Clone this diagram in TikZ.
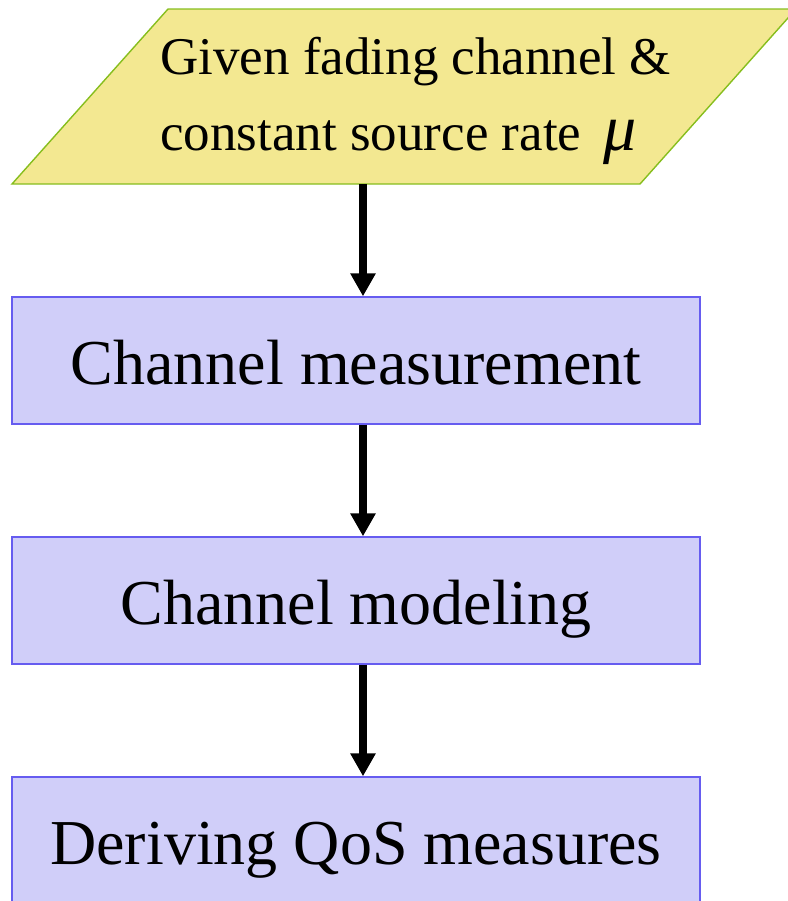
\documentclass[tikz,border=0pt]{standalone}
\usepackage{fontspec}
\setmainfont{Liberation Serif}
\usetikzlibrary{arrows.meta}
\definecolor{inputfill}{RGB}{243,232,145}
\definecolor{inputline}{RGB}{135,190,30}
\definecolor{stepfill}{RGB}{208,206,249}
\definecolor{stepline}{RGB}{102,92,240}
\begin{document}
\begin{tikzpicture}[x=0.5pt,y=-0.5pt,
    stepbox/.style={draw=stepline,fill=stepfill,line width=0.7pt,
        minimum width=344pt,minimum height=63.5pt,inner sep=0pt,
        text height=24pt,text depth=0pt,
        font=\fontsize{32}{38}\selectfont},
    flow/.style={line width=4pt,-{Triangle[width=12pt,length=11.5pt]}}]
\useasboundingbox (0,0) rectangle (788,901);
% input: parallelogram
\draw[draw=inputline,fill=inputfill,line width=0.7pt]
    (168,9) -- (796,9) -- (640,184) -- (12,184) -- cycle;
\node[anchor=west,inner sep=0pt,align=left,
      font=\fontsize{26.5}{38}\selectfont] (given) at (160,101)
    {Given fading channel \&\\constant source rate\,
     {\fontsize{33}{38}\selectfont\itshape μ}};
\coordinate (givenbot) at (363,184);
% processing steps
\node[stepbox] (meas) at (356,360.5) {Channel measurement};
\node[stepbox] (model) at (356,600.5) {Channel modeling};
\node[stepbox] (qos) at (356,840.5) {Deriving QoS measures};
\draw[flow] (givenbot) -- (meas.north -| givenbot);
\draw[flow] (meas.south -| givenbot) -- (model.north -| givenbot);
\draw[flow] (model.south -| givenbot) -- (qos.north -| givenbot);
\end{tikzpicture}
\end{document}
